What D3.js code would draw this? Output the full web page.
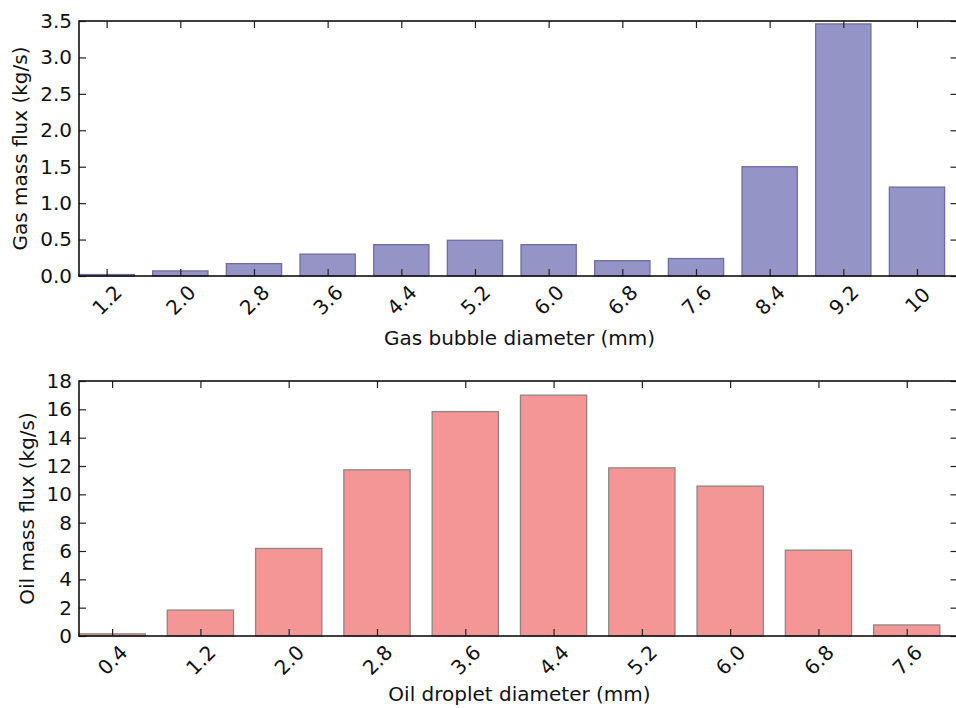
<!DOCTYPE html>
<html><head><meta charset="utf-8">
<script src="https://cdn.jsdelivr.net/npm/d3@7"></script>
<style>body{margin:0;background:#fff}text{font-family:"DejaVu Sans",sans-serif;fill:#111}</style>
</head><body><svg id="c" width="956" height="708"></svg>
<script>
const gasDiam = [1.2, 2.0, 2.8, 3.6, 4.4, 5.2, 6.0, 6.8, 7.6, 8.4, 9.2, 10];
const gasFlux = [0.02, 0.07, 0.17, 0.30, 0.43, 0.49, 0.43, 0.21, 0.24, 1.50, 3.46, 1.22];
const gasTickLabels = ["1.2","2.0","2.8","3.6","4.4","5.2","6.0","6.8","7.6","8.4","9.2","10"];
const gasYTicks = [0, 0.5, 1.0, 1.5, 2.0, 2.5, 3.0, 3.5];

const oilDiam = [0.4, 1.2, 2.0, 2.8, 3.6, 4.4, 5.2, 6.0, 6.8, 7.6];
const oilFlux = [0.15, 1.83, 6.18, 11.73, 15.84, 17.0, 11.87, 10.58, 6.06, 0.78];
const oilTickLabels = ["0.4","1.2","2.0","2.8","3.6","4.4","5.2","6.0","6.8","7.6"];
const oilYTicks = [0, 2, 4, 6, 8, 10, 12, 14, 16, 18];

const svg = d3.select("#c");
const FS = 20;

function panel(o) {
  const g = svg.append("g");
  const x = d3.scaleLinear().domain(o.xdom).range([o.left, o.right]);
  const y = d3.scaleLinear().domain(o.ydom).range([o.bottom, o.top]);
  const bw = 0.6;
  g.selectAll("rect.bar").data(o.xs).enter().append("rect")
    .attr("x", (d) => x(d - bw/2))
    .attr("width", (d) => x(d + bw/2) - x(d - bw/2))
    .attr("y", (d,i) => y(o.ys[i]))
    .attr("height", (d,i) => y(0) - y(o.ys[i]))
    .attr("fill", o.fill).attr("stroke", o.stroke).attr("stroke-width", 1.3);
  const tl = 7;
  const xa = d3.axisBottom(x).tickValues(o.xs).tickFormat((d,i) => o.xlabels[i]).tickSizeInner(-tl).tickSizeOuter(0);
  const xg = g.append("g").attr("transform", `translate(0,${o.bottom})`).call(xa);
  xg.select(".domain").remove();
  xg.selectAll(".tick line").attr("stroke", "#222").attr("stroke-width", 1.2);
  xg.selectAll(".tick text").attr("font-size", FS).attr("fill", "#111")
    .attr("text-anchor", "middle").attr("dy", null).attr("y", 24).attr("dominant-baseline", "central")
    .attr("transform", "rotate(-45,0,24)");
  const xt = d3.axisTop(x).tickValues(o.xs).tickFormat("").tickSizeInner(-tl).tickSizeOuter(0);
  const xtg = g.append("g").attr("transform", `translate(0,${o.top})`).call(xt);
  xtg.select(".domain").remove();
  xtg.selectAll(".tick line").attr("stroke", "#222").attr("stroke-width", 1.2);
  const ya = d3.axisLeft(y).tickValues(o.yticks).tickFormat(o.yfmt).tickSizeInner(-tl).tickSizeOuter(0).tickPadding(7);
  const yg = g.append("g").attr("transform", `translate(${o.left},0)`).call(ya);
  yg.select(".domain").remove();
  yg.selectAll(".tick line").attr("stroke", "#222").attr("stroke-width", 1.2);
  yg.selectAll(".tick text").attr("font-size", FS).attr("fill", "#111");
  const yr = d3.axisRight(y).tickValues(o.yticks).tickFormat("").tickSizeInner(-tl).tickSizeOuter(0);
  const yrg = g.append("g").attr("transform", `translate(${o.right},0)`).call(yr);
  yrg.select(".domain").remove();
  yrg.selectAll(".tick line").attr("stroke", "#222").attr("stroke-width", 1.2);
  g.append("rect").attr("x", o.left).attr("y", o.top).attr("width", o.right - o.left).attr("height", o.bottom - o.top)
    .attr("fill", "none").attr("stroke", "#111").attr("stroke-width", 1.6);
  g.append("text").attr("x", (o.left + 956)/2 + 2).attr("y", o.bottom + o.xty).attr("text-anchor", "middle")
    .attr("font-size", FS).text(o.xtitle);
  g.append("text").attr("transform", `translate(${o.ylx},${(o.top+o.bottom)/2}) rotate(-90)`)
    .attr("text-anchor", "middle").attr("dominant-baseline", "central").attr("font-size", FS).text(o.ytitle);
}

panel({xs: gasDiam, ys: gasFlux, xlabels: gasTickLabels, yticks: gasYTicks, yfmt: d3.format(".1f"),
  xdom: [0.9, 10.44], ydom: [0, 3.5], left: 79, right: 957.5, top: 21, bottom: 276, xty: 69,
  fill: "#9494c7", stroke: "#6e6ea3", xtitle: "Gas bubble diameter (mm)", ytitle: "Gas mass flux (kg/s)", ylx: 20});

panel({xs: oilDiam, ys: oilFlux, xlabels: oilTickLabels, yticks: oilYTicks, yfmt: d3.format("d"),
  xdom: [0.1, 8.06], ydom: [0, 18], left: 79, right: 957.5, top: 381, bottom: 636, xty: 65,
  fill: "#f49696", stroke: "#8f8585", xtitle: "Oil droplet diameter (mm)", ytitle: "Oil mass flux (kg/s)", ylx: 27});
</script></body></html>
